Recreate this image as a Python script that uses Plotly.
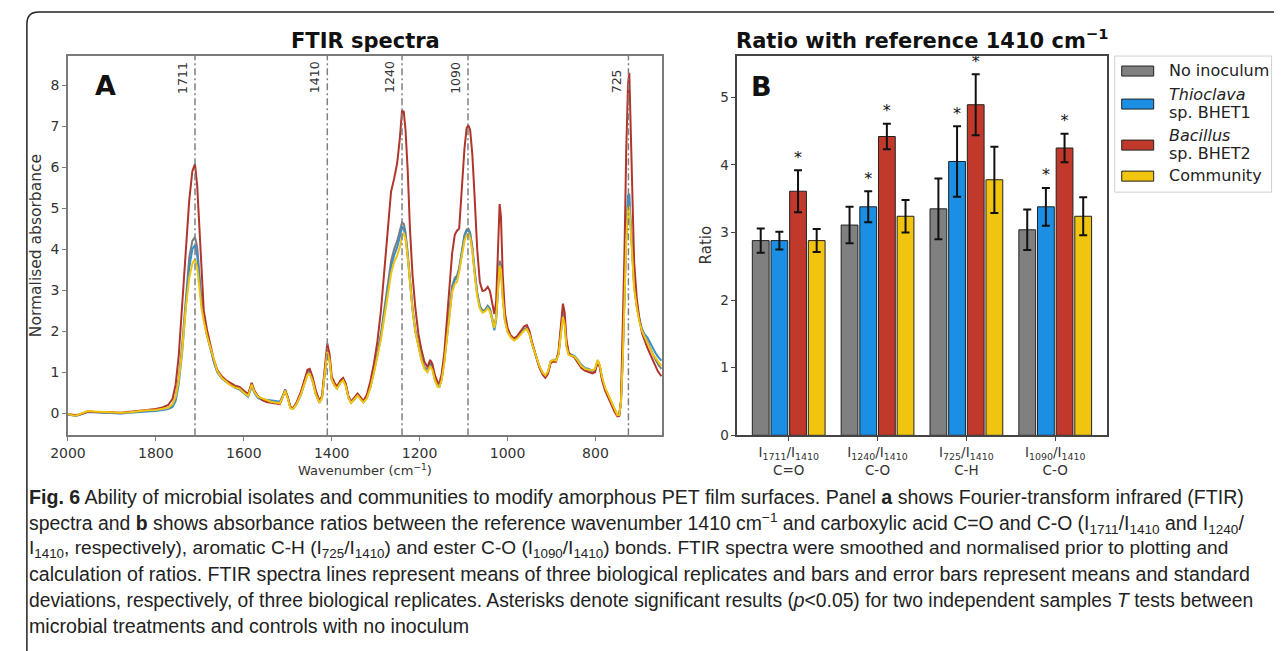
import plotly.graph_objects as go

# Calibration of figure pixels to the photographed page (measured from earlier renders)
S, OX, OY = 0.987, 26.0, 8.0
FW, FH = 1273, 652
def fx(p): return max((p - OX) / S, 0.6) / FW      # reference-pixel x -> paper
def fy(p): return 1 - ((p - OY) / S) / FH           # reference-pixel y -> paper

FONT = "DejaVu Sans"

# ---------------- Panel A data: FTIR spectra ----------------
wavenumber = [2000,1990,1982,1970,1955,1940,1920,1900,1880,1860,
              1840,1820,1800,1785,1772,1762,1755,1748,1740,1732,
              1724,1717,1711,1706,1701,1696,1691,1684,1676,1668,
              1660,1650,1640,1630,1620,1610,1600,1590,1582,1576,
              1568,1558,1548,1538,1528,1518,1512,1506,1500,1494,
              1488,1480,1470,1462,1455,1450,1444,1436,1428,1422,
              1415,1410,1405,1400,1394,1388,1380,1374,1368,1362,
              1356,1348,1341,1335,1328,1320,1312,1304,1296,1288,
              1280,1272,1265,1258,1251,1245,1240,1236,1232,1227,
              1222,1216,1210,1203,1196,1189,1182,1176,1171,1165,
              1159,1155,1150,1144,1138,1132,1126,1120,1115,1110,
              1104,1098,1093,1089,1085,1080,1075,1069,1063,1057,
              1051,1045,1040,1035,1030,1026,1022,1018,1015,1011,
              1006,1000,993,985,978,970,962,956,950,944,
              936,928,920,914,908,902,896,890,884,879,
              874,870,866,861,855,848,840,832,824,815,
              807,801,795,790,785,778,770,762,756,750,
              746,742,738,734,730,726,723,720,716,712,
              706,700,694,688,682,676,670,664,658,650]

abs_no_inoculum = [-0.02,-0.05,-0.06,-0.02,0.04,0.03,0.02,0.01,0.00,0.02,
                   0.04,0.05,0.07,0.09,0.12,0.20,0.40,0.85,1.70,2.85,
                   3.80,4.20,4.30,4.05,3.40,2.75,2.35,1.95,1.60,1.25,
                   1.00,0.85,0.78,0.70,0.65,0.62,0.52,0.44,0.72,0.55,
                   0.40,0.34,0.30,0.29,0.27,0.26,0.40,0.58,0.40,0.15,
                   0.12,0.25,0.50,0.78,1.02,1.04,0.85,0.50,0.27,0.40,
                   1.10,1.55,1.35,0.85,0.70,0.62,0.78,0.84,0.70,0.40,
                   0.27,0.36,0.46,0.38,0.28,0.40,0.68,1.05,1.45,1.95,
                   2.55,3.20,3.70,4.00,4.20,4.45,4.65,4.62,4.40,3.90,
                   3.20,2.55,2.05,1.65,1.35,1.12,1.05,1.22,1.12,0.85,
                   0.70,0.68,0.85,1.30,1.95,2.60,3.10,3.30,3.35,3.55,
                   4.00,4.35,4.48,4.50,4.40,4.05,3.50,2.95,2.62,2.50,
                   2.52,2.62,2.55,2.35,2.10,2.35,3.10,3.72,3.60,2.90,
                   2.30,2.02,1.88,1.80,1.85,1.95,2.05,2.08,1.95,1.70,
                   1.40,1.15,0.98,0.90,1.00,1.25,1.30,1.28,1.45,1.95,
                   2.50,2.30,1.70,1.45,1.40,1.38,1.28,1.15,1.08,1.05,
                   1.02,1.05,1.28,1.15,0.85,0.60,0.40,0.20,0.05,-0.06,
                   -0.05,0.25,1.30,2.80,4.30,5.10,5.15,4.60,3.70,3.10,
                   2.60,2.25,2.00,1.85,1.75,1.60,1.45,1.32,1.20,1.08]

abs_thioclava = [-0.03,-0.06,-0.07,-0.03,0.03,0.02,0.01,0.00,-0.01,0.01,
                 0.03,0.04,0.05,0.07,0.10,0.15,0.30,0.70,1.50,2.60,
                 3.55,4.00,4.10,3.85,3.25,2.65,2.30,1.90,1.58,1.25,
                 1.00,0.85,0.76,0.68,0.62,0.58,0.48,0.40,0.66,0.50,
                 0.37,0.33,0.33,0.32,0.30,0.28,0.40,0.56,0.38,0.14,
                 0.11,0.22,0.45,0.72,0.95,0.98,0.80,0.46,0.25,0.38,
                 1.05,1.50,1.30,0.82,0.68,0.60,0.75,0.82,0.68,0.38,
                 0.26,0.34,0.44,0.36,0.27,0.38,0.64,1.00,1.40,1.85,
                 2.45,3.05,3.55,3.85,4.05,4.30,4.55,4.50,4.30,3.80,
                 3.15,2.52,2.00,1.62,1.32,1.10,1.02,1.18,1.08,0.80,
                 0.66,0.64,0.82,1.25,1.85,2.50,3.00,3.25,3.30,3.50,
                 3.95,4.30,4.45,4.45,4.35,4.00,3.45,2.90,2.58,2.48,
                 2.50,2.60,2.52,2.30,2.02,2.25,3.00,3.65,3.55,2.85,
                 2.28,2.00,1.86,1.78,1.84,1.94,2.04,2.06,1.93,1.68,
                 1.38,1.14,0.97,0.90,1.00,1.26,1.30,1.28,1.45,1.90,
                 2.40,2.20,1.65,1.45,1.42,1.40,1.30,1.18,1.10,1.08,
                 1.04,1.06,1.28,1.14,0.84,0.60,0.40,0.20,0.05,-0.06,
                 -0.05,0.25,1.35,2.90,4.45,5.30,5.35,4.70,3.75,3.12,
                 2.62,2.28,2.05,1.92,1.85,1.72,1.60,1.48,1.38,1.28]

abs_bacillus = [-0.02,-0.04,-0.05,-0.02,0.04,0.03,0.03,0.02,0.01,0.03,
                0.06,0.08,0.10,0.14,0.20,0.35,0.70,1.40,2.60,4.00,
                5.20,5.90,6.08,5.55,4.50,3.20,2.50,2.05,1.65,1.30,
                1.05,0.90,0.80,0.73,0.67,0.64,0.55,0.46,0.74,0.55,
                0.42,0.32,0.27,0.25,0.24,0.22,0.38,0.55,0.38,0.14,
                0.12,0.26,0.52,0.80,1.06,1.08,0.90,0.55,0.30,0.42,
                1.20,1.70,1.45,0.90,0.75,0.65,0.80,0.86,0.72,0.42,
                0.28,0.38,0.48,0.40,0.30,0.45,0.78,1.20,1.75,2.50,
                3.55,4.70,5.40,5.72,6.10,6.70,7.38,7.35,6.90,5.90,
                4.50,3.35,2.60,1.95,1.55,1.25,1.12,1.30,1.20,0.92,
                0.75,0.73,0.95,1.45,2.25,3.10,3.90,4.35,4.45,4.50,
                5.50,6.45,6.95,7.02,6.90,6.30,5.30,4.00,3.20,2.98,
                3.00,3.08,2.98,2.70,2.42,2.70,3.90,5.10,4.80,3.40,
                2.45,2.08,1.90,1.82,1.88,2.00,2.12,2.15,2.00,1.72,
                1.40,1.12,0.94,0.86,0.96,1.22,1.26,1.25,1.50,2.15,
                2.67,2.45,1.80,1.48,1.40,1.36,1.22,1.10,1.04,1.00,
                0.97,1.00,1.25,1.12,0.80,0.55,0.35,0.15,0.02,-0.08,
                -0.07,0.30,1.80,3.90,6.40,8.00,8.30,7.20,5.20,3.70,
                2.80,2.30,1.95,1.75,1.60,1.45,1.30,1.15,1.02,0.90]

abs_community = [-0.01,-0.05,-0.06,-0.01,0.05,0.04,0.03,0.02,0.01,0.02,
                 0.05,0.07,0.08,0.10,0.13,0.22,0.40,0.80,1.55,2.55,
                 3.30,3.65,3.75,3.55,3.05,2.55,2.25,1.90,1.60,1.28,
                 1.02,0.86,0.76,0.68,0.63,0.60,0.50,0.42,0.70,0.52,
                 0.40,0.36,0.32,0.28,0.26,0.24,0.38,0.55,0.36,0.12,
                 0.10,0.22,0.46,0.72,0.94,0.96,0.80,0.46,0.25,0.38,
                 1.05,1.50,1.30,0.82,0.68,0.60,0.74,0.80,0.66,0.38,
                 0.25,0.34,0.43,0.35,0.26,0.36,0.62,0.98,1.35,1.80,
                 2.35,2.95,3.40,3.68,3.85,4.05,4.30,4.40,4.25,3.80,
                 3.15,2.50,2.00,1.60,1.30,1.08,1.00,1.15,1.05,0.80,
                 0.65,0.64,0.80,1.22,1.85,2.45,2.95,3.15,3.20,3.45,
                 3.85,4.20,4.35,4.38,4.28,3.95,3.40,2.85,2.55,2.45,
                 2.48,2.56,2.48,2.28,2.08,2.30,3.00,3.60,3.50,2.80,
                 2.25,1.98,1.85,1.77,1.82,1.92,2.02,2.05,1.92,1.68,
                 1.40,1.16,0.99,0.92,1.02,1.26,1.30,1.28,1.42,1.85,
                 2.35,2.15,1.62,1.42,1.40,1.38,1.28,1.15,1.08,1.05,
                 1.04,1.08,1.30,1.16,0.88,0.62,0.42,0.22,0.06,-0.05,
                 -0.04,0.25,1.25,2.70,4.20,5.00,5.02,4.50,3.60,3.05,
                 2.58,2.22,2.00,1.85,1.72,1.58,1.45,1.35,1.25,1.15]

marker_wavenumbers = [1711, 1410, 1240, 1090, 725]

# ---------------- Panel B data: ratios ----------------
ratio_labels = ["I<sub>1711</sub>/I<sub>1410</sub><br>C=O",
                "I<sub>1240</sub>/I<sub>1410</sub><br>C-O",
                "I<sub>725</sub>/I<sub>1410</sub><br>C-H",
                "I<sub>1090</sub>/I<sub>1410</sub><br>C-O"]
series_names = ["No inoculum", "<i>Thioclava</i><br>sp. BHET1",
                "<i>Bacillus</i><br>sp. BHET2", "Community"]
ratio_no_inoculum = [2.88, 3.11, 3.35, 3.04]
sd_no_inoculum    = [0.18, 0.27, 0.45, 0.30]
ratio_thioclava   = [2.88, 3.38, 4.05, 3.38]
sd_thioclava      = [0.13, 0.23, 0.52, 0.28]
ratio_bacillus    = [3.61, 4.42, 4.89, 4.25]
sd_bacillus       = [0.31, 0.19, 0.45, 0.21]
ratio_community   = [2.88, 3.24, 3.78, 3.24]
sd_community      = [0.17, 0.24, 0.49, 0.28]
sig_no_inoculum = [False, False, False, False]
sig_thioclava   = [False, True, True, True]
sig_bacillus    = [True, True, True, True]
sig_community   = [False, False, False, False]

spectra = [abs_no_inoculum, abs_thioclava, abs_bacillus, abs_community]
for s in spectra:
    assert len(s) == len(wavenumber)
ratios = [ratio_no_inoculum, ratio_thioclava, ratio_bacillus, ratio_community]
sds = [sd_no_inoculum, sd_thioclava, sd_bacillus, sd_community]
sigs = [sig_no_inoculum, sig_thioclava, sig_bacillus, sig_community]

bar_colors = ["#808080", "#1a8fe3", "#c0392b", "#f1c40f"]
line_colors = ["#7d7d7d", "#3a8fc8", "#b0352b", "#f1c40f"]

BARGAP = 0.16
fig = go.Figure()

# Panel A lines
for name, vals, col in zip(series_names, spectra, line_colors):
    fig.add_trace(go.Scatter(x=wavenumber, y=vals, mode="lines",
                             line=dict(color=col, width=2),
                             name=name.replace("<br>", " "), showlegend=False,
                             xaxis="x", yaxis="y"))

# Panel B bars
cats = list(range(len(ratio_labels)))
for name, vals, err, col in zip(series_names, ratios, sds, bar_colors):
    fig.add_trace(go.Bar(x=cats, y=vals, name=name.replace("<br>", " "),
                         marker=dict(color=col, line=dict(color="#222", width=1)),
                         error_y=dict(type="data", array=err, color="#111",
                                      thickness=2, width=4),
                         showlegend=False, xaxis="x2", yaxis="y2"))

# significance asterisks
n = len(series_names)
slot = (1 - BARGAP) / n
for i, (vals, err, sg) in enumerate(zip(ratios, sds, sigs)):
    xs, ys = [], []
    for j in cats:
        if sg[j]:
            xs.append(j - (1 - BARGAP) / 2 + slot * (i + 0.5))
            ys.append(vals[j] + err[j] + 0.05)
    if xs:
        fig.add_trace(go.Scatter(x=xs, y=ys, mode="text", text=["*"] * len(xs),
                                 textposition="top center",
                                 textfont=dict(family=FONT, size=16, color="#111"),
                                 showlegend=False, cliponaxis=False,
                                 hoverinfo="skip", xaxis="x2", yaxis="y2"))

ydom = [fy(435), fy(56)]
axis_common = dict(showline=True, mirror=True, ticks="outside", ticklen=4,
                   showgrid=False, zeroline=False,
                   tickfont=dict(family=FONT, size=14, color="#333"))

fig.update_layout(
    width=FW, height=FH, margin=dict(l=0, r=0, t=0, b=0),
    paper_bgcolor="white", plot_bgcolor="white",
    barmode="group", bargap=BARGAP, bargroupgap=0.1,
    font=dict(family=FONT, color="#222"),
    xaxis=dict(domain=[fx(68), fx(663)], range=[2000, 648], anchor="y",
               tickvals=[2000, 1800, 1600, 1400, 1200, 1000, 800],
               linecolor="#7a7a7a", linewidth=1.5, tickcolor="#7a7a7a", **axis_common),
    yaxis=dict(domain=ydom, range=[-0.54, 8.71], anchor="x", dtick=1,
               linecolor="#7a7a7a", linewidth=1.5, tickcolor="#7a7a7a", **axis_common),
    xaxis2=dict(domain=[fx(738), fx(1108)], range=[-0.58, 3.58], anchor="y2",
                tickvals=cats, ticktext=ratio_labels,
                linecolor="#444", linewidth=1.5, tickcolor="#444",
                **{**axis_common, "tickfont": dict(family=FONT, size=13.5, color="#333")}),
    yaxis2=dict(domain=ydom, range=[0, 5.61], anchor="x2", dtick=1,
                linecolor="#444", linewidth=1.5, tickcolor="#444",
                **{**axis_common, "tickfont": dict(family=FONT, size=13.5, color="#333")}),
)

shapes = []
# dash-dot marker lines
for wn in marker_wavenumbers:
    shapes.append(dict(type="line", xref="x", yref="y domain", x0=wn, x1=wn, y0=0, y1=1,
                       line=dict(color="#808080", width=1.5, dash="7px,3px,2px,3px"),
                       layer="above"))
# figure frame (rounded top-left corner)
fl = 0.9 / FW
shapes.append(dict(type="path", xref="paper", yref="paper",
                   path=f"M {fl},{fy(651)} L {fl},{fy(24)} Q {fl},{fy(12)} {fl + 12 / FW},{fy(12)} L 1,{fy(12)}",
                   line=dict(color="#222", width=1.5)))
# custom legend box
shapes.append(dict(type="rect", xref="paper", yref="paper",
                   x0=fx(1116), x1=fx(1273), y0=fy(192), y1=fy(56),
                   line=dict(color="#d0d0d0", width=1), fillcolor="white"))
legend_patch_y = [71, 104, 145, 176]
legend_text_y = [[70], [94, 112], [135, 153], [175]]
for col, py in zip(bar_colors, legend_patch_y):
    shapes.append(dict(type="rect", xref="paper", yref="paper",
                       x0=fx(1123), x1=fx(1155), y0=fy(py + 5), y1=fy(py - 5),
                       line=dict(color="#222", width=1), fillcolor=col))

ann = []
for wn in marker_wavenumbers:
    ann.append(dict(x=wn, y=7.75, xref="x", yref="y", text=str(wn), showarrow=False,
                    textangle=-90, xanchor="right", yanchor="bottom", xshift=-3,
                    font=dict(family=FONT, size=12.5, color="#333")))
for name, ys in zip(series_names, legend_text_y):
    for part, py in zip(name.split("<br>"), ys):
        ann.append(dict(x=fx(1168), y=fy(py), xref="paper", yref="paper", text=part,
                        showarrow=False, xanchor="left", yanchor="middle",
                        font=dict(family=FONT, size=16, color="#222")))
# titles and panel letters
extra = [
    dict(x=fx(365.5), y=fy(41), text="<b>FTIR spectra</b>", xanchor="center", yanchor="middle",
         font=dict(family=FONT, size=21, color="#111")),
    dict(x=fx(735), y=fy(39), text="<b>Ratio with reference 1410 cm<sup>−1</sup></b>",
         xanchor="left", yanchor="middle", font=dict(family=FONT, size=21, color="#111")),
    dict(x=fx(106), y=fy(85), text="<b>A</b>", xanchor="center", yanchor="middle",
         font=dict(family=FONT, size=27, color="#111")),
    dict(x=fx(762), y=fy(86), text="<b>B</b>", xanchor="center", yanchor="middle",
         font=dict(family=FONT, size=27, color="#111")),
    dict(x=fx(365.5), y=fy(470), text="Wavenumber (cm<sup>−1</sup>)", xanchor="center",
         yanchor="middle", font=dict(family=FONT, size=13, color="#333")),
    dict(x=fx(36), y=fy(245), text="Normalised absorbance", textangle=-90, xanchor="center",
         yanchor="middle", font=dict(family=FONT, size=15.5, color="#333")),
    dict(x=fx(707), y=fy(245), text="Ratio", textangle=-90, xanchor="center",
         yanchor="middle", font=dict(family=FONT, size=15, color="#333")),
]
for a in extra:
    a.update(xref="paper", yref="paper", showarrow=False)
ann += extra

caption_lines = [
    "<b>Fig. 6</b> Ability of microbial isolates and communities to modify amorphous PET film surfaces. Panel <b>a</b> shows Fourier-transform infrared (FTIR)",
    "spectra and <b>b</b> shows absorbance ratios between the reference wavenumber 1410 cm<sup>−1</sup> and carboxylic acid C=O and C-O (I<sub>1711</sub>/I<sub>1410</sub> and I<sub>1240</sub>/",
    "I<sub>1410</sub>, respectively), aromatic C-H (I<sub>725</sub>/I<sub>1410</sub>) and ester C-O (I<sub>1090</sub>/I<sub>1410</sub>) bonds. FTIR spectra were smoothed and normalised prior to plotting and",
    "calculation of ratios. FTIR spectra lines represent means of three biological replicates and bars and error bars represent means and standard",
    "deviations, respectively, of three biological replicates. Asterisks denote significant results (<i>p</i>&lt;0.05) for two independent samples <i>T</i> tests between",
    "microbial treatments and controls with no inoculum",
]
caption_y = [497, 523, 549, 574, 600, 626]
caption_size = [19.6, 19.4, 19.1, 19.6, 19.3, 19.6]
for line, py, sz in zip(caption_lines, caption_y, caption_size):
    ann.append(dict(x=fx(18), y=fy(py), xref="paper", yref="paper", text=line,
                    showarrow=False, xanchor="left", yanchor="middle",
                    font=dict(family="Liberation Sans", size=sz, color="#222")))

fig.update_layout(shapes=shapes, annotations=ann)
fig.write_html("out.html")
